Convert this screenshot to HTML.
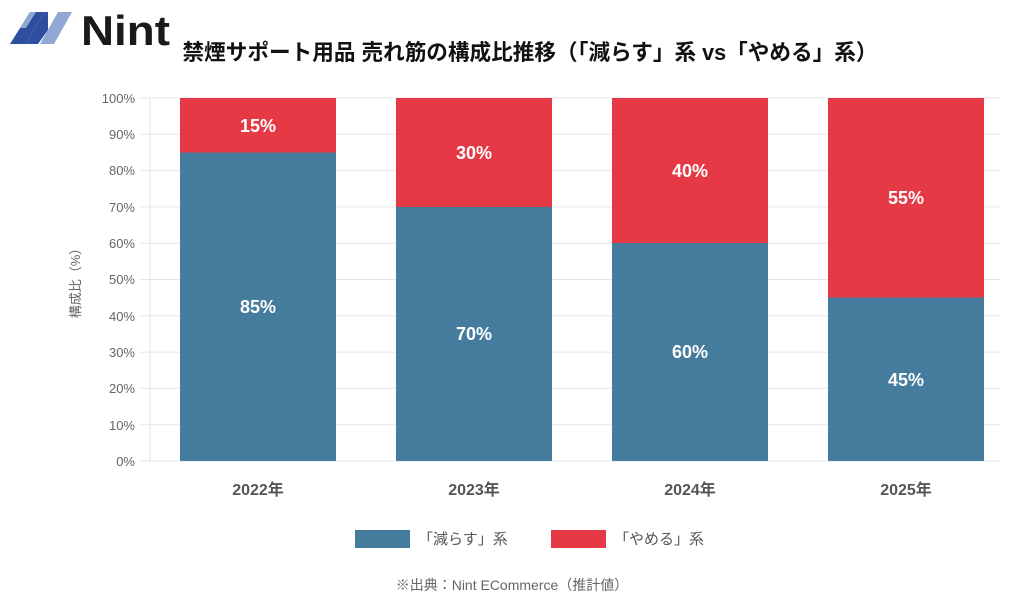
<!DOCTYPE html>
<html><head><meta charset="utf-8"><style>
body{margin:0;background:#fff;width:1024px;height:604px;overflow:hidden}
text{font-family:"Liberation Sans","Noto Sans CJK JP",sans-serif}
</style></head><body>
<svg width="1024" height="604" xmlns="http://www.w3.org/2000/svg">
<polygon points="10,44 30,12 44,12 26,44" fill="#2e4f9f"/>
<polygon points="26,44 44,12 48,12 48,30 38,44" fill="#2e4f9f"/>
<polygon points="40,44 58,12 72,12 54,44" fill="#8fa8d6"/>
<polygon points="20,28 30,12 36,12 26,28" fill="#8fa8d6"/>
<text x="81" y="45" font-size="42" font-weight="bold" fill="#1a1a1a" textLength="89" lengthAdjust="spacingAndGlyphs">Nint</text>
<text x="530" y="60" font-size="22" font-weight="bold" text-anchor="middle" fill="#111" textLength="695" lengthAdjust="spacingAndGlyphs">禁煙サポート用品 売れ筋の構成比推移（「減らす」系 vs「やめる」系）</text>
<g stroke="#e5e5e5" stroke-width="1">
<line x1="140" y1="98" x2="1000" y2="98"/><line x1="140" y1="134.3" x2="1000" y2="134.3"/><line x1="140" y1="170.6" x2="1000" y2="170.6"/><line x1="140" y1="206.9" x2="1000" y2="206.9"/><line x1="140" y1="243.2" x2="1000" y2="243.2"/><line x1="140" y1="279.5" x2="1000" y2="279.5"/><line x1="140" y1="315.8" x2="1000" y2="315.8"/><line x1="140" y1="352.1" x2="1000" y2="352.1"/><line x1="140" y1="388.4" x2="1000" y2="388.4"/><line x1="140" y1="424.7" x2="1000" y2="424.7"/><line x1="140" y1="461" x2="1000" y2="461"/>
<line x1="150" y1="98" x2="150" y2="461"/>
</g>
<g font-size="13" fill="#666" text-anchor="end">
<text x="135" y="103">100%</text><text x="135" y="139">90%</text><text x="135" y="175">80%</text><text x="135" y="212">70%</text><text x="135" y="248">60%</text><text x="135" y="284">50%</text><text x="135" y="321">40%</text><text x="135" y="357">30%</text><text x="135" y="393">20%</text><text x="135" y="430">10%</text><text x="135" y="466">0%</text>
</g>
<text transform="translate(80,280) rotate(-90)" font-size="13" fill="#666" text-anchor="middle">構成比（%）</text>
<g>
<rect x="180" y="98" width="156" height="54.5" fill="#e63946"/><rect x="180" y="152.5" width="156" height="308.5" fill="#457b9d"/>
<rect x="396" y="98" width="156" height="109" fill="#e63946"/><rect x="396" y="207" width="156" height="254" fill="#457b9d"/>
<rect x="612" y="98" width="156" height="145" fill="#e63946"/><rect x="612" y="243" width="156" height="218" fill="#457b9d"/>
<rect x="828" y="98" width="156" height="199.5" fill="#e63946"/><rect x="828" y="297.5" width="156" height="163.5" fill="#457b9d"/>
</g>
<g font-size="18" font-weight="bold" fill="#fff" text-anchor="middle">
<text x="258" y="132">15%</text><text x="258" y="313">85%</text>
<text x="474" y="159">30%</text><text x="474" y="340">70%</text>
<text x="690" y="177">40%</text><text x="690" y="358">60%</text>
<text x="906" y="204">55%</text><text x="906" y="386">45%</text>
</g>
<g font-size="16" font-weight="bold" fill="#555" text-anchor="middle">
<text x="258" y="495">2022年</text><text x="474" y="495">2023年</text><text x="690" y="495">2024年</text><text x="906" y="495">2025年</text>
</g>
<rect x="355" y="530" width="55" height="18" fill="#457b9d"/>
<text x="418" y="544" font-size="15" fill="#555">「減らす」系</text>
<rect x="551" y="530" width="55" height="18" fill="#e63946"/>
<text x="614" y="544" font-size="15" fill="#555">「やめる」系</text>
<text x="512" y="590" font-size="14" fill="#666" text-anchor="middle">※出典：Nint ECommerce（推計値）</text>
</svg>
</body></html>
